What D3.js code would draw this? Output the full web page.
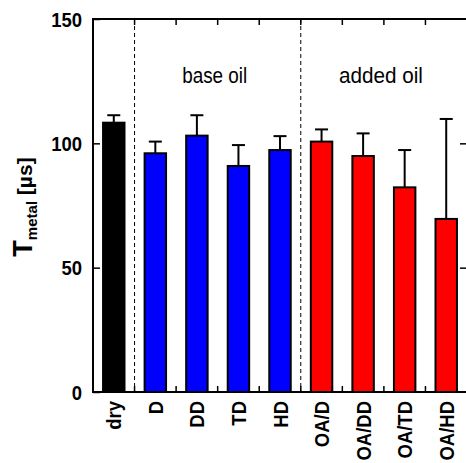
<!DOCTYPE html>
<html><head><meta charset="utf-8">
<script src="https://cdn.jsdelivr.net/npm/d3@7/dist/d3.min.js"></script>
<style>body{margin:0;background:#fff}svg{display:block}</style>
</head><body>
<script>
const categories = ["dry","D","DD","TD","HD","OA/D","OA/DD","OA/TD","OA/HD"];
const means = [108.3, 96.0, 103.1, 90.9, 97.3, 100.7, 94.9, 82.3, 69.6];
const upperErr = [3.0, 4.7, 8.2, 8.4, 5.6, 4.9, 9.1, 15.0, 40.2];
const groups = ["dry","base","base","base","base","added","added","added","added"];
const groupColors = {dry:"#000000", base:"#0000ff", added:"#ff0000"};
const yTicks = [0, 50, 100, 150];
const groupLabels = [{text:"base oil", from:"D", to:"HD", w:65},{text:"added oil", from:"OA/D", to:"OA/HD", w:84}];

const W=466,H=463;
const L=93,R=467,T=19,B=392;
const svg=d3.select("body").append("svg").attr("width",W).attr("height",H);
const font="'Liberation Sans',Arial,sans-serif";

const x=d3.scaleBand().domain(categories).range([L,R]).paddingInner(0.484).paddingOuter(0.242);
const y=d3.scaleLinear().domain([0,150]).range([B,T]);
const step=x.step();

// dashed separators
const seps=[x("dry")+x.bandwidth()/2+step/2, x("HD")+x.bandwidth()/2+step/2];
svg.selectAll("line.sep").data(seps).enter().append("line")
 .attr("x1",d=>d).attr("x2",d=>d).attr("y1",T).attr("y2",B)
 .attr("stroke","#000").attr("stroke-width",1).attr("stroke-dasharray","4,3");

// bars
const data=categories.map((c,i)=>({c,m:means[i],e:upperErr[i],g:groups[i]}));
svg.selectAll("line.err").data(data).enter().append("line")
 .attr("x1",d=>x(d.c)+x.bandwidth()/2).attr("x2",d=>x(d.c)+x.bandwidth()/2)
 .attr("y1",d=>y(d.m)).attr("y2",d=>y(d.m+d.e)).attr("stroke","#000").attr("stroke-width",2);
svg.selectAll("line.cap").data(data).enter().append("line")
 .attr("x1",d=>x(d.c)+x.bandwidth()/2-6.5).attr("x2",d=>x(d.c)+x.bandwidth()/2+6.5)
 .attr("y1",d=>y(d.m+d.e)).attr("y2",d=>y(d.m+d.e)).attr("stroke","#000").attr("stroke-width",2);
svg.selectAll("rect.bar").data(data).enter().append("rect")
 .attr("x",d=>x(d.c)).attr("width",x.bandwidth())
 .attr("y",d=>y(d.m)).attr("height",d=>y(0)-y(d.m))
 .attr("fill",d=>groupColors[d.g]).attr("stroke","#000").attr("stroke-width",2);

// frame
svg.append("rect").attr("x",L).attr("y",T).attr("width",R-L).attr("height",B-T)
 .attr("fill","none").attr("stroke","#000").attr("stroke-width",2);

// y ticks
const yAxisL=svg.append("g").attr("transform",`translate(${L},0)`)
 .call(d3.axisLeft(y).tickValues(yTicks).tickSize(-7).tickFormat(""));
yAxisL.select(".domain").remove();
yAxisL.selectAll("line").attr("stroke","#000").attr("stroke-width",1.5);
svg.selectAll("text.yl").data(yTicks).enter().append("text")
 .attr("transform",d=>`translate(82,${y(d)}) scale(0.88,1)`)
 .attr("text-anchor","end").attr("dy","0.36em")
 .attr("font-family",font).attr("font-weight","bold").attr("font-size",21).attr("fill","#000")
 .text(d=>d);
const yAxisR=svg.append("g").attr("transform",`translate(${R},0)`)
 .call(d3.axisRight(y).tickValues(yTicks.slice(1,3)).tickSize(-7).tickFormat(""));
yAxisR.select(".domain").remove();
yAxisR.selectAll("line").attr("stroke","#000").attr("stroke-width",1.5);

// x boundary ticks (top & bottom, inward)
const bounds=categories.slice(0,-1).map(c=>x(c)+x.bandwidth()/2+step/2);
svg.selectAll("line.bt").data(bounds).enter().append("line")
 .attr("x1",d=>d).attr("x2",d=>d).attr("y1",B).attr("y2",B-6).attr("stroke","#000").attr("stroke-width",1.5);
svg.selectAll("line.tt").data(bounds).enter().append("line")
 .attr("x1",d=>d).attr("x2",d=>d).attr("y1",T).attr("y2",T+6).attr("stroke","#000").attr("stroke-width",1.5);

// x labels
svg.selectAll("text.xl").data(categories).enter().append("text")
 .attr("transform",d=>`translate(${x(d)+x.bandwidth()/2},401) rotate(-90) scale(0.88,1)`)
 .attr("text-anchor","end").attr("dy","0.36em")
 .attr("font-family",font).attr("font-weight","bold").attr("font-size",21).attr("fill","#000")
 .text(d=>d);

// group labels
svg.selectAll("text.gl").data(groupLabels).enter().append("text")
 .attr("x",d=>(x(d.from)+x(d.to)+x.bandwidth())/2-3).attr("y",83)
 .attr("text-anchor","middle").attr("font-family",font).attr("font-size",22).attr("fill","#000")
 .attr("textLength",d=>d.w).attr("lengthAdjust","spacingAndGlyphs")
 .text(d=>d.text);

// y title
const yt=svg.append("text").attr("transform","translate(32,207) rotate(-90)")
 .attr("text-anchor","middle").attr("font-family",font).attr("font-weight","bold").attr("fill","#000");
yt.append("tspan").attr("font-size",27).text("T");
yt.append("tspan").attr("font-size",15).attr("dy",5).text("metal");
yt.append("tspan").attr("font-size",21).attr("dy",-5).text(" [µs]");
</script>
</body></html>
